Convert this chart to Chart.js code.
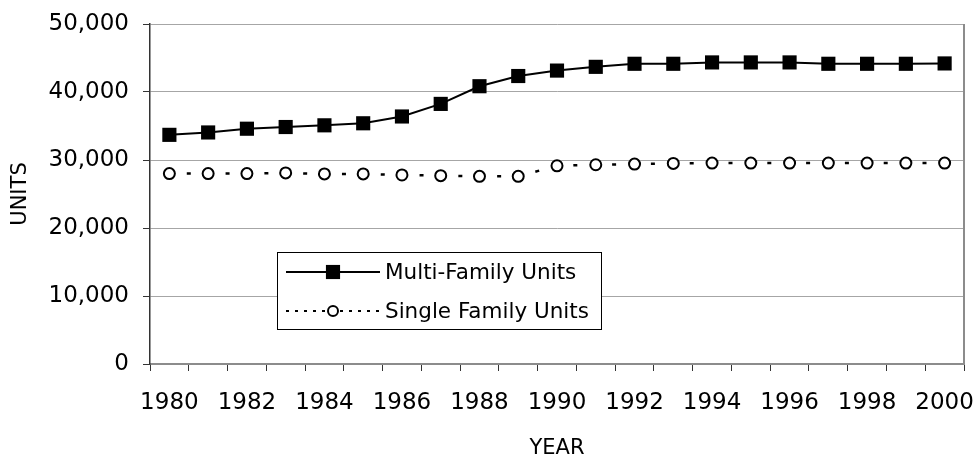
<!DOCTYPE html>
<html>
<head>
<meta charset="utf-8">
<title>Housing Units 1980-2000</title>
<script src="https://cdn.jsdelivr.net/npm/chart.js@4.4.1/dist/chart.umd.min.js"></script>
<style>
  html, body { margin: 0; padding: 0; background: #fff; }
  canvas { display: block; }
</style>
</head>
<body>
<canvas id="unitsChart" width="976" height="458"></canvas>
<script>
// chart data
const years = ["1980", "1981", "1982", "1983", "1984", "1985", "1986", "1987", "1988", "1989", "1990",
  "1991", "1992", "1993", "1994", "1995", "1996", "1997", "1998", "1999", "2000"];
const multiFamily = [33700, 34050, 34600, 34850, 35100, 35400, 36400, 38250, 40850, 42350, 43150,
  43700, 44150, 44150, 44350, 44350, 44350, 44150, 44150, 44150, 44200];
const singleFamily = [28000, 28000, 28000, 28100, 27950, 27950, 27800, 27700, 27600, 27600, 29150,
  29300, 29400, 29500, 29550, 29550, 29550, 29550, 29550, 29550, 29550];
const yTickValues = [0, 10000, 20000, 30000, 40000, 50000];
const seriesNames = ["Multi-Family Units", "Single Family Units"];

const FONT = "'DejaVu Sans', Verdana, sans-serif";

// legend box drawn inside the plot, like the original
const boxLegend = {
  id: "boxLegend",
  afterDatasetsDraw(chart) {
    const ctx = chart.ctx;
    const x0 = 277, y0 = 252, w = 324, h = 77;
    ctx.save();
    ctx.fillStyle = "#fff";
    ctx.fillRect(x0, y0, w, h);
    ctx.strokeStyle = "#000";
    ctx.lineWidth = 1;
    ctx.strokeRect(x0 + 0.5, y0 + 0.5, w, h);

    chart.data.datasets.forEach((ds, i) => {
      const y = y0 + 20 + i * 39;
      ctx.strokeStyle = ds.borderColor;
      ctx.lineWidth = 2;
      ctx.setLineDash(i === 0 ? [] : [3, 6]);
      ctx.beginPath();
      ctx.moveTo(286, y);
      ctx.lineTo(380, y);
      ctx.stroke();
      ctx.setLineDash([]);

      ctx.fillStyle = ds.pointBackgroundColor;
      ctx.strokeStyle = ds.pointBorderColor;
      ctx.lineWidth = ds.pointBorderWidth;
      Chart.helpers.drawPoint(ctx, {
        pointStyle: ds.pointStyle,
        radius: i === 0 ? ds.pointRadius : 5,
        borderWidth: ds.pointBorderWidth,
        rotation: 0
      }, 333, y);

      ctx.fillStyle = "#000";
      ctx.font = "21.5px " + FONT;
      ctx.textBaseline = "middle";
      ctx.textAlign = "left";
      ctx.fillText(ds.label, 385, y + 1);
    });
    ctx.restore();
  }
};

// right edge of the plot frame
const rightFrame = {
  id: "rightFrame",
  beforeDatasetsDraw(chart) {
    const { ctx, chartArea } = chart;
    ctx.save();
    ctx.strokeStyle = "#8c8c8c";
    ctx.lineWidth = 2;
    ctx.beginPath();
    ctx.moveTo(chartArea.right, chartArea.top);
    ctx.lineTo(chartArea.right, chartArea.bottom);
    ctx.stroke();
    ctx.restore();
  }
};

const ctx = document.getElementById("unitsChart").getContext("2d");
new Chart(ctx, {
  type: "line",
  data: {
    labels: years,
    datasets: [
      {
        label: seriesNames[0],
        data: multiFamily,
        borderColor: "#000",
        borderWidth: 2,
        tension: 0,
        pointStyle: "rect",
        pointRadius: 10,
        pointBackgroundColor: "#000",
        pointBorderColor: "#000",
        pointBorderWidth: 0
      },
      {
        label: seriesNames[1],
        data: singleFamily,
        borderColor: "#000",
        borderWidth: 2.5,
        borderDash: [4, 34.8],
        borderDashOffset: 21.4,
        tension: 0,
        pointStyle: "circle",
        pointRadius: 5.5,
        pointBackgroundColor: "#fff",
        pointBorderColor: "#000",
        pointBorderWidth: 2
      }
    ]
  },
  options: {
    responsive: false,
    animation: false,
    devicePixelRatio: 1,
    layout: { padding: { left: 0, right: 12, top: 24, bottom: 0 } },
    plugins: {
      legend: { display: false },
      tooltip: { enabled: false }
    },
    scales: {
      x: {
        offset: true,
        grid: {
          offset: true,
          drawOnChartArea: false,
          tickLength: 7,
          tickColor: "#333"
        },
        border: { color: "#8c8c8c", width: 2 },
        ticks: {
          autoSkip: false,
          maxRotation: 0,
          padding: 18,
          color: "#000",
          font: { family: FONT, size: 23 },
          callback: function (val, index) {
            return index % 2 === 0 ? this.getLabelForValue(val) : "";
          }
        },
        title: {
          display: true,
          text: "YEAR",
          color: "#000",
          font: { family: FONT, size: 21, lineHeight: 1 },
          padding: { top: 0, bottom: -1 }
        },
        afterFit(scale) {
          scale.height = 94;
          scale.paddingLeft = 0;
          scale.paddingRight = 0;
        }
      },
      y: {
        min: 0,
        max: 50000,
        afterBuildTicks(scale) {
          scale.ticks = yTickValues.map(v => ({ value: v }));
        },
        grid: {
          color: "#a6a6a6",
          tickColor: "#333",
          tickLength: 7,
          lineWidth: 1
        },
        border: { color: "#333", width: 1.5 },
        ticks: {
          padding: 14,
          color: "#000",
          font: { family: FONT, size: 23 },
          callback: v => v.toLocaleString("en-US")
        },
        title: {
          display: true,
          text: "UNITS",
          color: "#000",
          font: { family: FONT, size: 21 },
          padding: { top: 8, bottom: 0 }
        },
        afterFit(scale) {
          scale.width = 150;
          scale.paddingTop = 0;
          scale.paddingBottom = 0;
        }
      }
    }
  },
  plugins: [rightFrame, boxLegend]
});
</script>
</body>
</html>
